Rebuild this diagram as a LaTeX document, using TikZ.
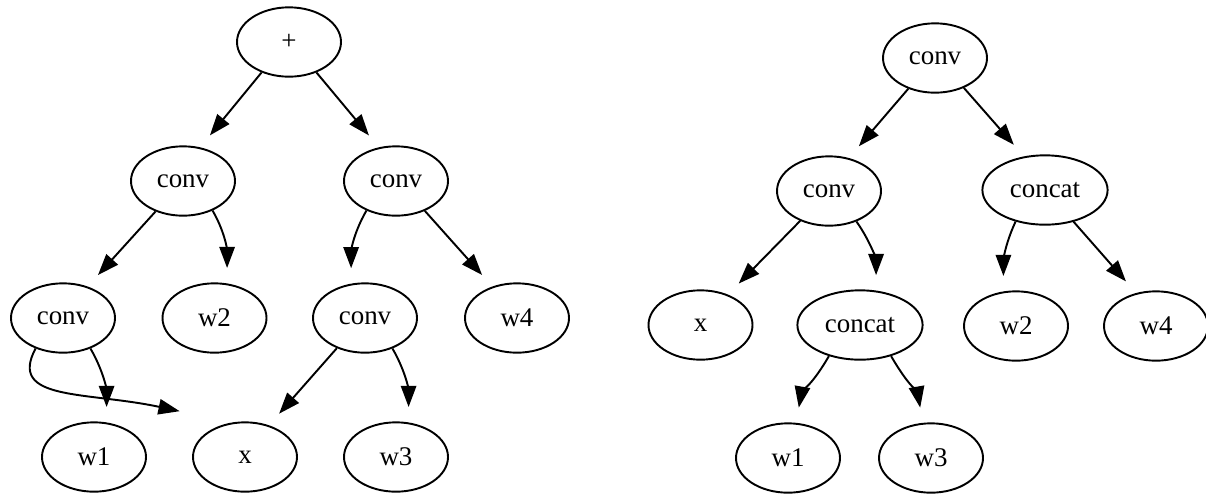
\documentclass[tikz,border=0pt]{standalone}
\usepackage{fontspec}
\setmainfont{Liberation Serif}
\usetikzlibrary{shapes.geometric,arrows.meta}
\begin{document}
\begin{tikzpicture}[x=0.5192pt,y=-0.5192pt,
  nd/.style={draw, ellipse, line width=1pt, minimum width=54pt, minimum height=36pt, inner sep=0pt, font=\fontsize{14}{16}\selectfont},
  wide/.style={minimum width=65pt},
  edge/.style={line width=1pt, -{Triangle[length=11pt,width=8pt]}, shorten >=8pt}]
\useasboundingbox (0,0) rectangle (1206,493);
% left tree
\node[nd] (plus) at (289,42) {+};
\node[nd] (c1) at (183,181) {conv};
\node[nd] (c2) at (396,181) {conv};
\node[nd] (c3) at (63,318) {conv};
\node[nd] (w2L) at (214.5,318) {w2};
\node[nd] (c4) at (365,318) {conv};
\node[nd] (w4L) at (517,318) {w4};
\node[nd] (w1L) at (94,457) {w1};
\node[nd] (xL) at (245,457) {x};
\node[nd] (w3L) at (396,457) {w3};
% right tree
\node[nd] (r1) at (935,58) {conv};
\node[nd] (r2) at (829,191) {conv};
\node[nd,wide] (r3) at (1045,190) {concat};
\node[nd] (rx) at (700.5,325) {x};
\node[nd,wide] (r4) at (860,325) {concat};
\node[nd] (w2R) at (1016,326) {w2};
\node[nd] (w4R) at (1156,326) {w4};
\node[nd] (w1R) at (788,458) {w1};
\node[nd] (w3R) at (931,458) {w3};
% left edges
\draw[edge] (plus.-132) -- (c1.63);
\draw[edge] (plus.-48) -- (c2.117);
\draw[edge] (c1.-132) -- (c3.52);
\draw[edge] (c1.-45) to[out=-60,in=90] (w2L.70);
\draw[edge] (c2.-135) to[out=-120,in=90] (c4.112);
\draw[edge] (c2.-46) -- (w4L.128);
\draw[edge] (c3.-48) to[out=-60,in=90] (w1L.70);
\draw[edge, shorten >=28pt] (c3.-132) to[out=-118,in=168,out distance=31pt,in distance=78pt] (xL.110);
\draw[edge] (c4.-133) -- (xL.53);
\draw[edge] (c4.-48) to[out=-60,in=90] (w3L.70);
% right edges
\draw[edge] (r1.-131) -- (r2.59);
\draw[edge] (r1.-46) -- (r3.122);
\draw[edge] (r2.-134) -- (rx.48);
\draw[edge] (r2.-48) to[out=-55,in=90] (r4.65);
\draw[edge] (r3.-133) to[out=-115,in=90] (w2R.110);
\draw[edge] (r3.-48) -- (w4R.121);
\draw[edge] (r4.-135) to[out=-120,in=80] (w1R.77);
\draw[edge] (r4.-45) to[out=-60,in=100] (w3R.103);
\end{tikzpicture}
\end{document}
